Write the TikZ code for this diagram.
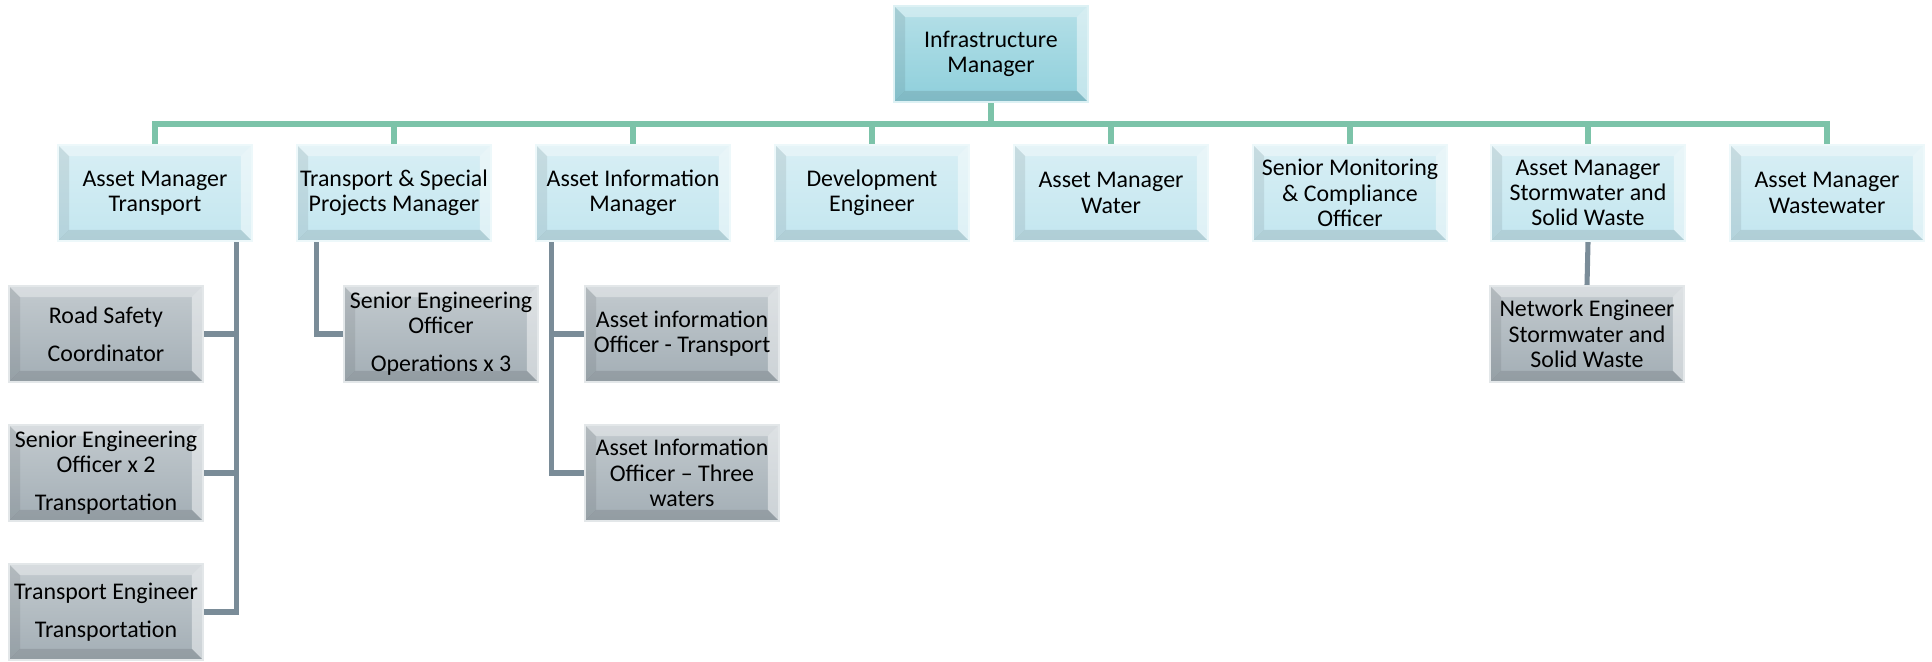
\documentclass[tikz,border=0pt]{standalone}
\usepackage{fontspec}
\setmainfont{Carlito}
\usetikzlibrary{calc}

\definecolor{topface}{HTML}{8ECFDB}
\definecolor{headface}{HTML}{C3E6EF}
\definecolor{staffface}{HTML}{A3AEB5}
\definecolor{busline}{HTML}{7CC3A9}
\definecolor{staffline}{HTML}{7A8C98}

\tikzset{
  bevel/.style={path picture={
    \fill[white,opacity=.35] (path picture bounding box.north west) -- (path picture bounding box.north east)
      -- ([shift={(-8pt,-8pt)}]path picture bounding box.north east) -- ([shift={(8pt,-8pt)}]path picture bounding box.north west) -- cycle;
    \fill[white,opacity=.45] (path picture bounding box.north east) -- (path picture bounding box.south east)
      -- ([shift={(-8pt,8pt)}]path picture bounding box.south east) -- ([shift={(-8pt,-8pt)}]path picture bounding box.north east) -- cycle;
    \fill[black,opacity=.10] (path picture bounding box.south west) -- (path picture bounding box.south east)
      -- ([shift={(-8pt,8pt)}]path picture bounding box.south east) -- ([shift={(8pt,8pt)}]path picture bounding box.south west) -- cycle;
    \fill[black,opacity=.08] (path picture bounding box.north west) -- (path picture bounding box.south west)
      -- ([shift={(8pt,8pt)}]path picture bounding box.south west) -- ([shift={(8pt,-8pt)}]path picture bounding box.north west) -- cycle;
  }},
  orgbox/.style={bevel, draw=#1!30!white, line width=1.6pt, top color=#1!65!white, bottom color=#1,
    minimum width=4.85cm, minimum height=2.4cm, align=center, inner sep=1pt,
    font=\fontsize{17}{18}\selectfont},
  topbox/.style={orgbox=topface},
  headbox/.style={orgbox=headface},
  staffbox/.style={orgbox=staffface},
  bus/.style={busline, line width=3.6pt},
  staff/.style={staffline, line width=3.6pt}
}

\begin{document}
\begin{tikzpicture}[x=0.025cm, y=-0.025cm]
            \useasboundingbox (0,0) rectangle (1932,662);

            \node[topbox] (im) at (991,54) {Infrastructure\\Manager};

            \node[headbox] (amt) at (155,193) {Asset Manager\\Transport};
            \node[headbox] (tsp) at (394,193) {Transport \& Special\\Projects Manager};
            \node[headbox] (aim) at (633,193) {Asset Information\\Manager};
            \node[headbox] (de) at (872,193) {Development\\Engineer};
            \node[headbox] (amw) at (1111,193) {Asset Manager\\Water};
            \node[headbox] (smco) at (1350,193) {Senior Monitoring\\\& Compliance\\Officer};
            \node[headbox] (amsw) at (1588,193) {Asset Manager\\Stormwater and\\Solid Waste};
            \node[headbox] (amww) at (1827,193) {Asset Manager\\Wastewater};

            \node[staffbox] (rsc) at (106,334) {Road Safety\\[9pt]Coordinator};
            \node[staffbox] (seo2) at (106,473) {Senior Engineering\\Officer x 2\\[9pt]Transportation};
            \node[staffbox] (te) at (106,612) {Transport Engineer\\[9pt]Transportation};
            \node[staffbox] (seo3) at (441,334) {Senior Engineering\\Officer\\[9pt]Operations x 3};
            \node[staffbox] (aiot) at (682,334) {Asset information\\Officer - Transport};
            \node[staffbox] (aiow) at (682,473) {Asset Information\\Officer -- Three\\waters};
            \node[staffbox] (ne) at (1587,334) {Network Engineer\\Stormwater and\\Solid Waste};

            \coordinate (bus) at (0,124);
            \draw[bus] (im.south) -- (im.south |- bus);
            \draw[bus] (amt.north) -- (amt.north |- bus) -- (amww.north |- bus) -- (amww.north);
            \foreach \n in {tsp,aim,de,amw,smco,amsw}
                \draw[bus] (\n.north) -- (\n.north |- bus);

            \coordinate (amtx) at ($(amt.south east)+(-17,0)$);
            \coordinate (tspx) at ($(tsp.south west)+(21,0)$);
            \coordinate (aimx) at ($(aim.south west)+(17,0)$);
            \draw[staff] (amtx) |- (te.east);
            \draw[staff] (amtx |- rsc.east) -- (rsc.east);
            \draw[staff] (amtx |- seo2.east) -- (seo2.east);
            \draw[staff] (tspx) |- (seo3.west);
            \draw[staff] (aimx) |- (aiow.west);
            \draw[staff] (aimx |- aiot.west) -- (aiot.west);
            \draw[staff] (amsw.south) -- (ne.north);
        \end{tikzpicture}
\end{document}
